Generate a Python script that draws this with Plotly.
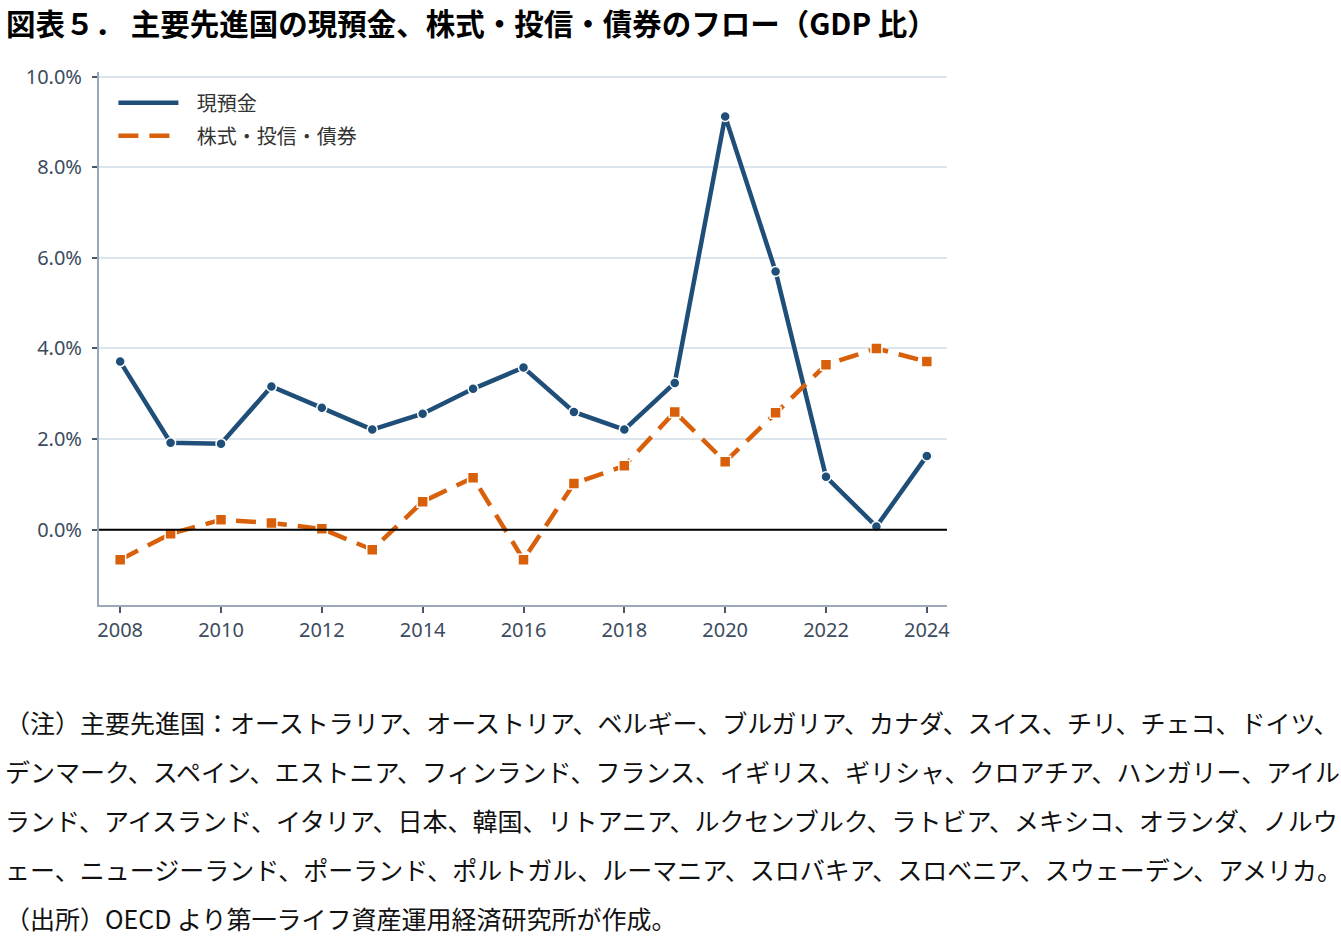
import plotly.graph_objects as go

years = list(range(2008, 2025))
deposits = [3.71, 1.92, 1.90, 3.16, 2.69, 2.21, 2.56, 3.11, 3.58, 2.60, 2.21, 3.24, 9.12, 5.70, 1.17, 0.07, 1.63]
securities = [-0.66, -0.09, 0.22, 0.15, 0.02, -0.44, 0.62, 1.15, -0.66, 1.02, 1.41, 2.60, 1.50, 2.58, 3.64, 4.00, 3.71]
y_ticks = [0, 2, 4, 6, 8, 10]
x_ticks = list(range(2008, 2025, 2))
series_names = ["現預金", "株式・投信・債券"]

title = "図表５． 主要先進国の現預金、株式・投信・債券のフロー（GDP 比）"
notes = [
    "（注）主要先進国：オーストラリア、オーストリア、ベルギー、ブルガリア、カナダ、スイス、チリ、チェコ、ドイツ、",
    "デンマーク、スペイン、エストニア、フィンランド、フランス、イギリス、ギリシャ、クロアチア、ハンガリー、アイル",
    "ランド、アイスランド、イタリア、日本、韓国、リトアニア、ルクセンブルク、ラトビア、メキシコ、オランダ、ノルウ",
    "ェー、ニュージーランド、ポーランド、ポルトガル、ルーマニア、スロバキア、スロベニア、スウェーデン、アメリカ。",
    "（出所）OECD より第一ライフ資産運用経済研究所が作成。",
]

BLUE = "#1f4e79"
ORANGE = "#d9600a"
CJK = "Noto Sans CJK JP"
TICK = "#3d4b5e"
DASH = "20px,11px"

fig = go.Figure()
fig.add_trace(go.Scatter(
    x=years, y=deposits, name=series_names[0], mode="lines+markers", showlegend=False,
    line=dict(color=BLUE, width=4.5),
    marker=dict(symbol="circle", size=10, color=BLUE, line=dict(color="white", width=1.5)),
))
fig.add_trace(go.Scatter(
    x=years, y=securities, name=series_names[1], mode="lines+markers", showlegend=False,
    line=dict(color=ORANGE, width=4.5, dash=DASH),
    marker=dict(symbol="square", size=11, color=ORANGE, line=dict(color="white", width=1.5)),
))
# legend-only line samples (reference legend shows lines without markers)
fig.add_trace(go.Scatter(x=[None], y=[None], mode="lines", name="\u00a0\u00a0\u00a0" + series_names[0],
                         line=dict(color=BLUE, width=4.5), legendgroup="a"))
fig.add_trace(go.Scatter(x=[None], y=[None], mode="lines", name="\u00a0\u00a0\u00a0" + series_names[1],
                         line=dict(color=ORANGE, width=4.5, dash=DASH), legendgroup="b"))

fig.add_shape(type="line", xref="paper", yref="y", x0=0, x1=1, y0=0, y1=0,
              line=dict(color="black", width=2), layer="above")

fig.update_layout(
    width=1341, height=937,
    margin=dict(l=99, r=394, t=72, b=332),
    paper_bgcolor="white", plot_bgcolor="white",
    font=dict(family=CJK, color=TICK),
    showlegend=True,
    legend=dict(x=0.017, y=0.979, xanchor="left", yanchor="top",
                font=dict(family=CJK, size=20, color="#333333"),
                bgcolor="rgba(0,0,0,0)", itemwidth=60, tracegroupgap=4),
)
fig.update_xaxes(
    range=[2007.58, 2024.4], tickvals=x_ticks, ticktext=[str(t) for t in x_ticks],
    showgrid=False, zeroline=False,
    showline=True, linecolor="#9aa8b8", linewidth=2,
    ticks="outside", ticklen=6, tickcolor="#4a5568", tickwidth=1.5,
    tickfont=dict(family="Noto Sans", size=20, color=TICK),
)
fig.update_yaxes(
    range=[-1.66, 10.1], tickvals=y_ticks, ticktext=[f"{v:.1f}%" for v in y_ticks],
    showgrid=True, gridcolor="#dce4ee", gridwidth=2, zeroline=False,
    showline=True, linecolor="#9aa8b8", linewidth=2,
    ticks="outside", ticklen=5, tickcolor="#4a5568", tickwidth=1.5,
    ticklabelstandoff=6,
    tickfont=dict(family="Noto Sans", size=20, color=TICK),
)

fig.add_annotation(text=f"<b>{title}</b>", xref="paper", yref="paper",
                   x=-99/848 + 4/848, y=1 + (72 - 22)/533, xanchor="left", yanchor="middle",
                   showarrow=False, font=dict(family=CJK, size=29.5, color="black"))

for i, line in enumerate(notes):
    ypix = 722 + 49 * i
    fig.add_annotation(text=line, xref="paper", yref="paper",
                       x=-99/848 + 3/848, y=(605 - ypix)/533, xanchor="left", yanchor="middle",
                       showarrow=False, font=dict(family=CJK, size=25, color="#111111"))

fig.write_html("out.html")
